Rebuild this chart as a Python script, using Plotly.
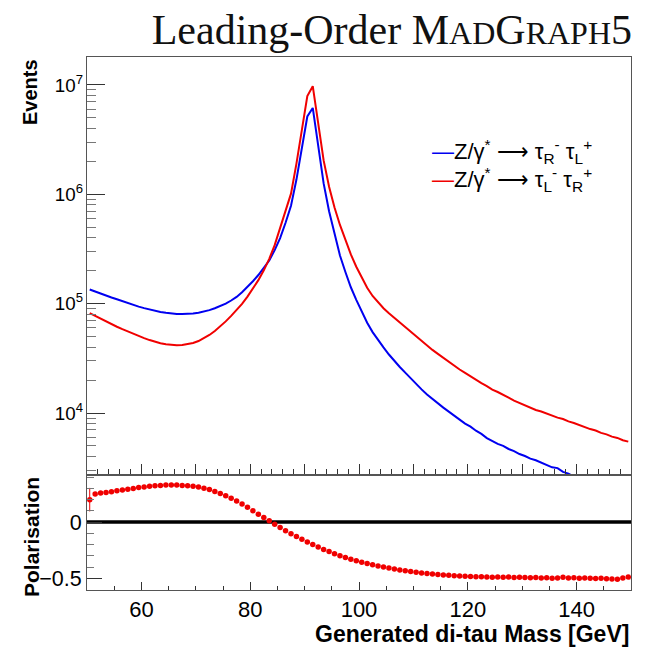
import numpy as np
import plotly.graph_objects as go

# ---------------- data ----------------
mass_edges = np.arange(50.0, 151.0, 1.0)           # 1 GeV bins, 50-150 GeV
mass_centres = 0.5 * (mass_edges[:-1] + mass_edges[1:])

# log10(Events) per bin, Z/gamma* -> tau_R^- tau_L^+  (blue)
log10_events_RL = [
    5.130, 5.110, 5.091, 5.073, 5.056, 5.040, 5.022, 5.004, 4.988, 4.973,
    4.959, 4.946, 4.934, 4.924, 4.916, 4.910, 4.906, 4.905, 4.906, 4.910,
    4.917, 4.927, 4.941, 4.958, 4.978, 5.001, 5.029, 5.062, 5.105, 5.153,
    5.205, 5.262, 5.325, 5.395, 5.490, 5.600, 5.740, 5.895, 6.135, 6.425,
    6.712, 6.790, 6.420, 6.100, 5.845, 5.630, 5.440, 5.290, 5.150, 5.035,
    4.925, 4.825, 4.740, 4.665, 4.600, 4.535, 4.476, 4.421, 4.369, 4.316,
    4.262, 4.216, 4.170, 4.128, 4.092, 4.049, 4.013, 3.973, 3.940, 3.903,
    3.875, 3.838, 3.809, 3.771, 3.744, 3.718, 3.699, 3.671, 3.652, 3.625,
    3.607, 3.583, 3.568, 3.546, 3.531, 3.503, 3.496, 3.462, 3.446, 3.418,
    3.402, 3.377, 3.362, 3.338, 3.322, 3.297, 3.282, 3.258, 3.243, 3.219,
]

# log10(Events) per bin, Z/gamma* -> tau_L^- tau_R^+  (red)
log10_events_LR = [
    4.913, 4.887, 4.861, 4.836, 4.812, 4.789, 4.767, 4.745, 4.724, 4.704,
    4.685, 4.667, 4.651, 4.638, 4.628, 4.622, 4.620, 4.622, 4.628, 4.640,
    4.658, 4.683, 4.714, 4.750, 4.792, 4.838, 4.888, 4.940, 4.998, 5.065,
    5.135, 5.215, 5.305, 5.410, 5.535, 5.685, 5.840, 6.006, 6.281, 6.587,
    6.898, 6.989, 6.640, 6.310, 6.070, 5.880, 5.720, 5.578, 5.450, 5.338,
    5.235, 5.145, 5.070, 5.010, 4.958, 4.912, 4.870, 4.829, 4.789, 4.747,
    4.704, 4.663, 4.614, 4.577, 4.541, 4.504, 4.472, 4.431, 4.398, 4.367,
    4.333, 4.306, 4.273, 4.246, 4.214, 4.192, 4.163, 4.141, 4.113, 4.092,
    4.064, 4.049, 4.028, 4.014, 3.993, 3.979, 3.958, 3.945, 3.923, 3.909,
    3.888, 3.874, 3.853, 3.840, 3.818, 3.805, 3.784, 3.772, 3.751, 3.738,
]

# tau polarisation per bin
polarisation = [
    0.200, 0.250, 0.259, 0.265, 0.271, 0.279, 0.287, 0.294, 0.300, 0.308,
    0.314, 0.319, 0.324, 0.327, 0.330, 0.331, 0.330, 0.327, 0.324, 0.319,
    0.312, 0.303, 0.291, 0.272, 0.254, 0.234, 0.212, 0.188, 0.162, 0.133,
    0.102, 0.071, 0.041, 0.012, -0.018, -0.048, -0.076, -0.103, -0.128, -0.153,
    -0.177, -0.200, -0.222, -0.243, -0.262, -0.281, -0.299, -0.315, -0.330, -0.344,
    -0.357, -0.369, -0.380, -0.391, -0.400, -0.409, -0.418, -0.426, -0.434, -0.441,
    -0.447, -0.453, -0.458, -0.463, -0.467, -0.471, -0.474, -0.477, -0.480, -0.482,
    -0.484, -0.487, -0.486, -0.489, -0.491, -0.490, -0.492, -0.489, -0.493, -0.491,
    -0.494, -0.496, -0.493, -0.498, -0.495, -0.500, -0.497, -0.492, -0.499, -0.496,
    -0.501, -0.498, -0.500, -0.503, -0.501, -0.504, -0.507, -0.510, -0.497, -0.490,
]
polarisation_err = [0.105] + [0.004] * 69 + [0.006] * 30

legend_labels = [
    "Z/γ<sup>*</sup> ⟶ τ<sub>R</sub><sup>-</sup> τ<sub>L</sub><sup>+</sup>",
    "Z/γ<sup>*</sup> ⟶ τ<sub>L</sub><sup>-</sup> τ<sub>R</sub><sup>+</sup>",
]

BLUE = "#0000f0"
RED = "#f00000"
FRAME = "#555555"
SANS = "Liberation Sans, Arial, sans-serif"

events_RL = [10 ** v for v in log10_events_RL]
events_LR = [10 ** v for v in log10_events_LR]

fig = go.Figure()
fig.add_trace(go.Scatter(x=mass_centres, y=events_RL, mode="lines",
                         line=dict(color=BLUE, width=2), name="RL",
                         showlegend=False, xaxis="x", yaxis="y"))
fig.add_trace(go.Scatter(x=mass_centres, y=events_LR, mode="lines",
                         line=dict(color=RED, width=2), name="LR",
                         showlegend=False, xaxis="x", yaxis="y"))
fig.add_trace(go.Scatter(x=mass_centres, y=polarisation, mode="markers",
                         marker=dict(color=RED, size=5.5),
                         error_y=dict(type="data", array=polarisation_err,
                                      color=RED, thickness=1, width=0),
                         showlegend=False, xaxis="x2", yaxis="y2"))

split = 115 / 533

common_frame = dict(showline=True, linecolor=FRAME, linewidth=1, mirror=True,
                    showgrid=False, zeroline=False, tickcolor="#333333")

fig.update_layout(
    width=645, height=649,
    margin=dict(l=87, r=14, t=57, b=59),
    paper_bgcolor="white", plot_bgcolor="white",
    font=dict(family=SANS, color="black"),
    xaxis=dict(domain=[0, 1], anchor="y", range=[50, 150], matches="x2",
               showticklabels=False, ticks="inside", tick0=50, dtick=10,
               ticklen=11,
               minor=dict(ticks="inside", dtick=2, ticklen=6, tickcolor="#333333"),
               **common_frame),
    yaxis=dict(domain=[split, 1], anchor="x", type="log",
               range=[3.433, 7.256], dtick=1, exponentformat="power",
               ticks="inside", ticklen=18,
               minor=dict(ticks="inside", ticklen=9, tickcolor="#777777"),
               tickfont=dict(size=15),
               **common_frame),
    xaxis2=dict(domain=[0, 1], anchor="y2", range=[50, 150],
                ticks="inside", tick0=0, dtick=20, ticklen=8,
                minor=dict(ticks="inside", dtick=5, ticklen=4, tickcolor="#333333"),
                tickfont=dict(size=22),
                **common_frame),
    yaxis2=dict(domain=[0, split], anchor="x2", range=[-0.605, 0.42],
                tick0=0, dtick=0.5, ticks="inside", ticklen=15,
                minor=dict(ticks="inside", dtick=0.1, ticklen=7, tickcolor="#777777"),
                tickfont=dict(size=21.5),
                **common_frame),
    title=dict(
        text=('Leading-Order M<span style="font-size:32px">AD</span>'
              'G<span style="font-size:32px">RAPH</span>5'),
        font=dict(family="Liberation Serif, Times New Roman, serif", size=42,
                  color="#111111"),
        xref="container", x=632 / 645, xanchor="right",
        yref="container", y=1 - 29 / 649, yanchor="middle"),
)

# zero line in the polarisation panel
fig.add_shape(type="line", xref="x2 domain", x0=0, x1=1, yref="y2", y0=0, y1=0,
              line=dict(color="black", width=3.5), layer="below")

# axis titles (ROOT style: aligned to the end of the axis)
fig.add_annotation(text="<b>Events</b>", textangle=-90, xref="paper", yref="paper",
                   x=(30 - 87) / 544, y=1.0, xanchor="center", yanchor="top",
                   showarrow=False, font=dict(size=20, family=SANS))
fig.add_annotation(text="<b>Polarisation</b>", textangle=-90, xref="paper", yref="paper",
                   x=(31 - 87) / 544, y=split, xanchor="center", yanchor="top",
                   showarrow=False, font=dict(size=21, family=SANS))
fig.add_annotation(text="<b>Generated di-tau Mass [GeV]</b>", xref="paper", yref="paper",
                   x=1.0, y=(590 - 634) / 533, xanchor="right", yanchor="middle",
                   showarrow=False, font=dict(size=23, family=SANS))

# legend (ROOT-like: short line then the label)
for label, colour, ypx in [(legend_labels[0], BLUE, 151), (legend_labels[1], RED, 180)]:
    fig.add_annotation(
        text=f'<span style="color:{colour}">—</span>{label}',
        xref="paper", yref="paper", x=(430 - 87) / 544, y=(590 - ypx) / 533,
        xanchor="left", yanchor="middle", showarrow=False,
        font=dict(size=22, family=SANS, color="black"))

fig.write_html("out.html")
